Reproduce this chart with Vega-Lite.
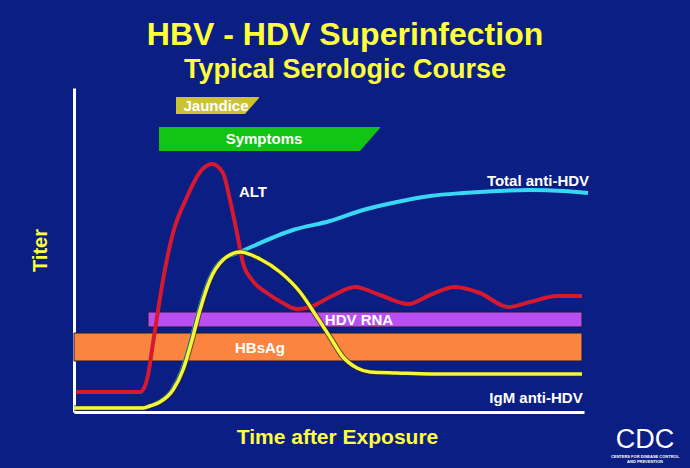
{
  "$schema": "https://vega.github.io/schema/vega-lite/v6.json",
  "width": 510,
  "height": 324,
  "autosize": {"type": "none"},
  "padding": {"left": 74, "top": 88, "right": 106, "bottom": 56},
  "background": "#0b1e83",
  "title": {
    "text": "HBV - HDV Superinfection",
    "subtitle": "Typical Serologic Course",
    "color": "#ffff3c",
    "subtitleColor": "#ffff3c",
    "font": "Liberation Sans",
    "subtitleFont": "Liberation Sans",
    "fontSize": 32,
    "subtitleFontSize": 27,
    "fontWeight": "bold",
    "subtitleFontWeight": "bold",
    "anchor": "middle",
    "dx": 16,
    "offset": 4,
    "subtitlePadding": 5
  },
  "config": {
    "view": {"stroke": null},
    "axis": {
      "grid": false,
      "ticks": false,
      "labels": false,
      "domainColor": "white",
      "domainWidth": 3,
      "titleColor": "#ffff3c",
      "titleFont": "Liberation Sans",
      "titleFontWeight": "bold"
    }
  },
  "datasets": {
    "bars": [
      {"series": "HBsAg", "t": 0, "t2": 508, "v": 51, "v2": 79},
      {"series": "HDV RNA", "t": 74, "t2": 508, "v": 85, "v2": 100}
    ],
    "flags": [
      {"series": "Jaundice", "t": 102, "v": 298, "v2": 315},
      {"series": "Jaundice", "t": 171, "v": 298, "v2": 315},
      {"series": "Jaundice", "t": 185, "v": 314, "v2": 315},
      {"series": "Symptoms", "t": 85, "v": 261, "v2": 285},
      {"series": "Symptoms", "t": 286, "v": 261, "v2": 285},
      {"series": "Symptoms", "t": 306, "v": 284, "v2": 285}
    ],
    "lines": [
      {"series": "ALT", "t": 2, "v": 20},
      {"series": "ALT", "t": 66, "v": 20},
      {"series": "ALT", "t": 71, "v": 26},
      {"series": "ALT", "t": 75, "v": 42},
      {"series": "ALT", "t": 78, "v": 62},
      {"series": "ALT", "t": 83, "v": 95},
      {"series": "ALT", "t": 89, "v": 132},
      {"series": "ALT", "t": 99, "v": 179},
      {"series": "ALT", "t": 113, "v": 215},
      {"series": "ALT", "t": 126, "v": 240},
      {"series": "ALT", "t": 138, "v": 248},
      {"series": "ALT", "t": 149, "v": 239},
      {"series": "ALT", "t": 156, "v": 212},
      {"series": "ALT", "t": 163, "v": 179},
      {"series": "ALT", "t": 169, "v": 149},
      {"series": "ALT", "t": 178, "v": 132},
      {"series": "ALT", "t": 193, "v": 119},
      {"series": "ALT", "t": 209, "v": 109},
      {"series": "ALT", "t": 223, "v": 103},
      {"series": "ALT", "t": 236, "v": 105},
      {"series": "ALT", "t": 256, "v": 115},
      {"series": "ALT", "t": 281, "v": 125},
      {"series": "ALT", "t": 306, "v": 117},
      {"series": "ALT", "t": 334, "v": 108},
      {"series": "ALT", "t": 356, "v": 117},
      {"series": "ALT", "t": 381, "v": 125},
      {"series": "ALT", "t": 406, "v": 119},
      {"series": "ALT", "t": 434, "v": 105},
      {"series": "ALT", "t": 456, "v": 110},
      {"series": "ALT", "t": 483, "v": 116},
      {"series": "ALT", "t": 508, "v": 116},
      {"series": "Total anti-HDV", "t": 0, "v": 4},
      {"series": "Total anti-HDV", "t": 69, "v": 4},
      {"series": "Total anti-HDV", "t": 76, "v": 6},
      {"series": "Total anti-HDV", "t": 85, "v": 10},
      {"series": "Total anti-HDV", "t": 98, "v": 22},
      {"series": "Total anti-HDV", "t": 108, "v": 42},
      {"series": "Total anti-HDV", "t": 117, "v": 72},
      {"series": "Total anti-HDV", "t": 125, "v": 102},
      {"series": "Total anti-HDV", "t": 135, "v": 132},
      {"series": "Total anti-HDV", "t": 148, "v": 152},
      {"series": "Total anti-HDV", "t": 166, "v": 160},
      {"series": "Total anti-HDV", "t": 219, "v": 182},
      {"series": "Total anti-HDV", "t": 256, "v": 191},
      {"series": "Total anti-HDV", "t": 289, "v": 202},
      {"series": "Total anti-HDV", "t": 323, "v": 210},
      {"series": "Total anti-HDV", "t": 356, "v": 216},
      {"series": "Total anti-HDV", "t": 389, "v": 219},
      {"series": "Total anti-HDV", "t": 423, "v": 221},
      {"series": "Total anti-HDV", "t": 456, "v": 222},
      {"series": "Total anti-HDV", "t": 489, "v": 221},
      {"series": "Total anti-HDV", "t": 514, "v": 219},
      {"series": "IgM anti-HDV", "t": 0, "v": 4},
      {"series": "IgM anti-HDV", "t": 69, "v": 4},
      {"series": "IgM anti-HDV", "t": 76, "v": 6},
      {"series": "IgM anti-HDV", "t": 86, "v": 10},
      {"series": "IgM anti-HDV", "t": 99, "v": 22},
      {"series": "IgM anti-HDV", "t": 109, "v": 42},
      {"series": "IgM anti-HDV", "t": 118, "v": 72},
      {"series": "IgM anti-HDV", "t": 126, "v": 102},
      {"series": "IgM anti-HDV", "t": 136, "v": 132},
      {"series": "IgM anti-HDV", "t": 149, "v": 152},
      {"series": "IgM anti-HDV", "t": 166, "v": 160},
      {"series": "IgM anti-HDV", "t": 186, "v": 153},
      {"series": "IgM anti-HDV", "t": 206, "v": 140},
      {"series": "IgM anti-HDV", "t": 226, "v": 120},
      {"series": "IgM anti-HDV", "t": 243, "v": 95},
      {"series": "IgM anti-HDV", "t": 256, "v": 75},
      {"series": "IgM anti-HDV", "t": 269, "v": 55},
      {"series": "IgM anti-HDV", "t": 283, "v": 44},
      {"series": "IgM anti-HDV", "t": 296, "v": 40},
      {"series": "IgM anti-HDV", "t": 323, "v": 39},
      {"series": "IgM anti-HDV", "t": 356, "v": 38},
      {"series": "IgM anti-HDV", "t": 508, "v": 38}
    ],
    "labels": [
      {"label": "Jaundice", "t": 142, "v": 306},
      {"label": "Symptoms", "t": 190, "v": 273},
      {"label": "ALT", "t": 179, "v": 220},
      {"label": "Total anti-HDV", "t": 464, "v": 231},
      {"label": "IgM anti-HDV", "t": 462, "v": 14},
      {"label": "HDV RNA", "t": 285, "v": 92},
      {"label": "HBsAg", "t": 186, "v": 64}
    ],
    "logo": [
      {"label": "CDC", "t": 571, "v": -28}
    ],
    "logosmall": [
      {"label": "CENTERS FOR DISEASE CONTROL", "t": 571, "v": -45},
      {"label": "AND PREVENTION", "t": 571, "v": -50}
    ]
  },
  "layer": [
    {
      "data": {"name": "bars"},
      "mark": {"type": "rect", "stroke": "#1a1a2a", "strokeWidth": 1},
      "encoding": {
        "x": {"field": "t", "type": "quantitative", "scale": {"domain": [0, 510], "nice": false, "zero": false},
              "axis": {"title": "Time after Exposure", "titleFontSize": 21, "titlePadding": 14, "titleX": 263}},
        "x2": {"field": "t2"},
        "y": {"field": "v", "type": "quantitative", "scale": {"domain": [0, 324], "nice": false, "zero": false},
              "axis": {"title": "Titer", "titleFontSize": 20, "titlePadding": 24}},
        "y2": {"field": "v2"},
        "color": {"field": "series", "type": "nominal", "legend": null,
                  "scale": {"domain": ["HBsAg", "HDV RNA", "Jaundice", "Symptoms", "ALT", "Total anti-HDV", "IgM anti-HDV"],
                            "range": ["#fb8540", "#b94ff0", "#c9c236", "#12c514", "#d7192f", "#3ad7f5", "#f5f53a"]}}
      }
    },
    {
      "data": {"name": "flags"},
      "mark": {"type": "area", "opacity": 1},
      "encoding": {
        "x": {"field": "t", "type": "quantitative", "scale": {"domain": [0, 510], "nice": false, "zero": false}},
        "y": {"field": "v", "type": "quantitative", "scale": {"domain": [0, 324], "nice": false, "zero": false}},
        "y2": {"field": "v2"},
        "color": {"field": "series", "type": "nominal", "legend": null}
      }
    },
    {
      "data": {"name": "lines"},
      "transform": [{"filter": "datum.series !== 'IgM anti-HDV'"}],
      "mark": {"type": "line", "strokeWidth": 4, "interpolate": "monotone"},
      "encoding": {
        "x": {"field": "t", "type": "quantitative", "scale": {"domain": [0, 510], "nice": false, "zero": false}},
        "y": {"field": "v", "type": "quantitative", "scale": {"domain": [0, 324], "nice": false, "zero": false}},
        "color": {"field": "series", "type": "nominal", "legend": null}
      }
    },
    {
      "data": {"name": "lines"},
      "transform": [{"filter": "datum.series === 'IgM anti-HDV'"}],
      "mark": {"type": "line", "strokeWidth": 5.5, "interpolate": "monotone", "color": "#2a2a1a", "opacity": 0.7},
      "encoding": {
        "x": {"field": "t", "type": "quantitative", "scale": {"domain": [0, 510], "nice": false, "zero": false}},
        "y": {"field": "v", "type": "quantitative", "scale": {"domain": [0, 324], "nice": false, "zero": false}}
      }
    },
    {
      "data": {"name": "lines"},
      "transform": [{"filter": "datum.series === 'IgM anti-HDV'"}],
      "mark": {"type": "line", "strokeWidth": 3.5, "interpolate": "monotone"},
      "encoding": {
        "x": {"field": "t", "type": "quantitative", "scale": {"domain": [0, 510], "nice": false, "zero": false}},
        "y": {"field": "v", "type": "quantitative", "scale": {"domain": [0, 324], "nice": false, "zero": false}},
        "color": {"field": "series", "type": "nominal", "legend": null}
      }
    },
    {
      "data": {"name": "labels"},
      "mark": {"type": "text", "color": "white", "font": "Liberation Sans", "fontWeight": "bold", "fontSize": 15, "align": "center", "baseline": "middle"},
      "encoding": {
        "x": {"field": "t", "type": "quantitative", "scale": {"domain": [0, 510], "nice": false, "zero": false}},
        "y": {"field": "v", "type": "quantitative", "scale": {"domain": [0, 324], "nice": false, "zero": false}},
        "text": {"field": "label"}
      }
    },
    {
      "data": {"name": "logo"},
      "mark": {"type": "text", "color": "white", "font": "Liberation Sans", "fontSize": 27, "align": "center", "baseline": "middle"},
      "encoding": {
        "x": {"field": "t", "type": "quantitative", "scale": {"domain": [0, 510], "nice": false, "zero": false}},
        "y": {"field": "v", "type": "quantitative", "scale": {"domain": [0, 324], "nice": false, "zero": false}},
        "text": {"field": "label"}
      }
    },
    {
      "data": {"name": "logosmall"},
      "mark": {"type": "text", "color": "white", "font": "Liberation Sans", "fontSize": 4, "fontWeight": "bold", "align": "center", "baseline": "middle"},
      "encoding": {
        "x": {"field": "t", "type": "quantitative", "scale": {"domain": [0, 510], "nice": false, "zero": false}},
        "y": {"field": "v", "type": "quantitative", "scale": {"domain": [0, 324], "nice": false, "zero": false}},
        "text": {"field": "label"}
      }
    }
  ]
}
